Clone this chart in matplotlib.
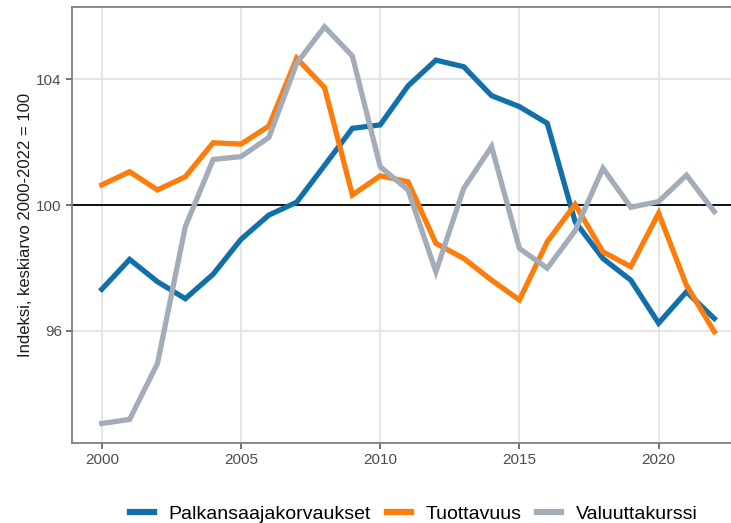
import matplotlib
matplotlib.use("Agg")
import matplotlib.pyplot as plt
from matplotlib.lines import Line2D

plt.rcParams['font.family'] = ['Liberation Sans', 'DejaVu Sans']

years = list(range(2000, 2023))
palkansaajakorvaukset = [97.32, 98.27, 97.56, 97.02, 97.80, 98.91, 99.68, 100.09, 101.26, 102.44,
                         102.55, 103.79, 104.61, 104.40, 103.48, 103.13, 102.60, 99.47, 98.30, 97.61,
                         96.24, 97.24, 96.39]
tuottavuus = [100.64, 101.06, 100.48, 100.90, 101.98, 101.94, 102.51, 104.67, 103.74, 100.32,
              100.93, 100.74, 98.78, 98.30, 97.61, 96.98, 98.83, 100.02, 98.51, 98.04,
              99.74, 97.45, 95.97]
valuuttakurssi = [93.05, 93.18, 94.96, 99.31, 101.45, 101.54, 102.15, 104.51, 105.67, 104.74,
                  101.22, 100.48, 97.88, 100.53, 101.86, 98.62, 97.99, 99.18, 101.17, 99.93,
                  100.11, 100.95, 99.79]

series_names = ["Palkansaajakorvaukset", "Tuottavuus", "Valuuttakurssi"]
colors = ["#1170aa", "#fc7d0b", "#a3acb9"]
x_ticks = [2000, 2005, 2010, 2015, 2020]
y_ticks = [96, 100, 104]
ylabel = "Indeksi, keskiarvo 2000-2022 = 100"

fig = plt.figure(figsize=(7.31, 5.23), dpi=100)
ax = fig.add_axes([0.0985, 0.1524, 0.9015, 0.8342])

ax.set_xlim(1998.93, 2022.6)
ax.set_ylim(92.42, 106.3)
ax.set_xticks(x_ticks)
ax.set_yticks(y_ticks)
ax.grid(True, color="#e3e3e3", linewidth=1.3, zorder=0)
ax.set_axisbelow(True)

ax.axhline(100, color="black", linewidth=1.3, zorder=2)

for vals, c in zip([palkansaajakorvaukset, tuottavuus, valuuttakurssi], colors):
    ax.plot(years, vals, color=c, linewidth=3.8, solid_joinstyle='miter', zorder=3)

for side in ['left', 'top', 'bottom']:
    ax.spines[side].set_color("#7f7f7f")
    ax.spines[side].set_linewidth(1.3)
ax.spines['right'].set_visible(False)

ax.tick_params(axis='both', labelsize=11, length=4.3, width=1.1,
               labelcolor="#4d4d4d", color="#4d4d4d", pad=3)
ax.set_ylabel(ylabel, fontsize=12, color="#1a1a1a", labelpad=2.5)

handles = [Line2D([0], [0], color=c, linewidth=4.5) for c in colors]
fig.legend(handles, series_names, loc='center', bbox_to_anchor=(0.566, 0.017),
           ncol=3, frameon=False, fontsize=14, handlelength=1.25, handletextpad=0.75,
           columnspacing=0.8)

fig.savefig("out.png", dpi=100)
